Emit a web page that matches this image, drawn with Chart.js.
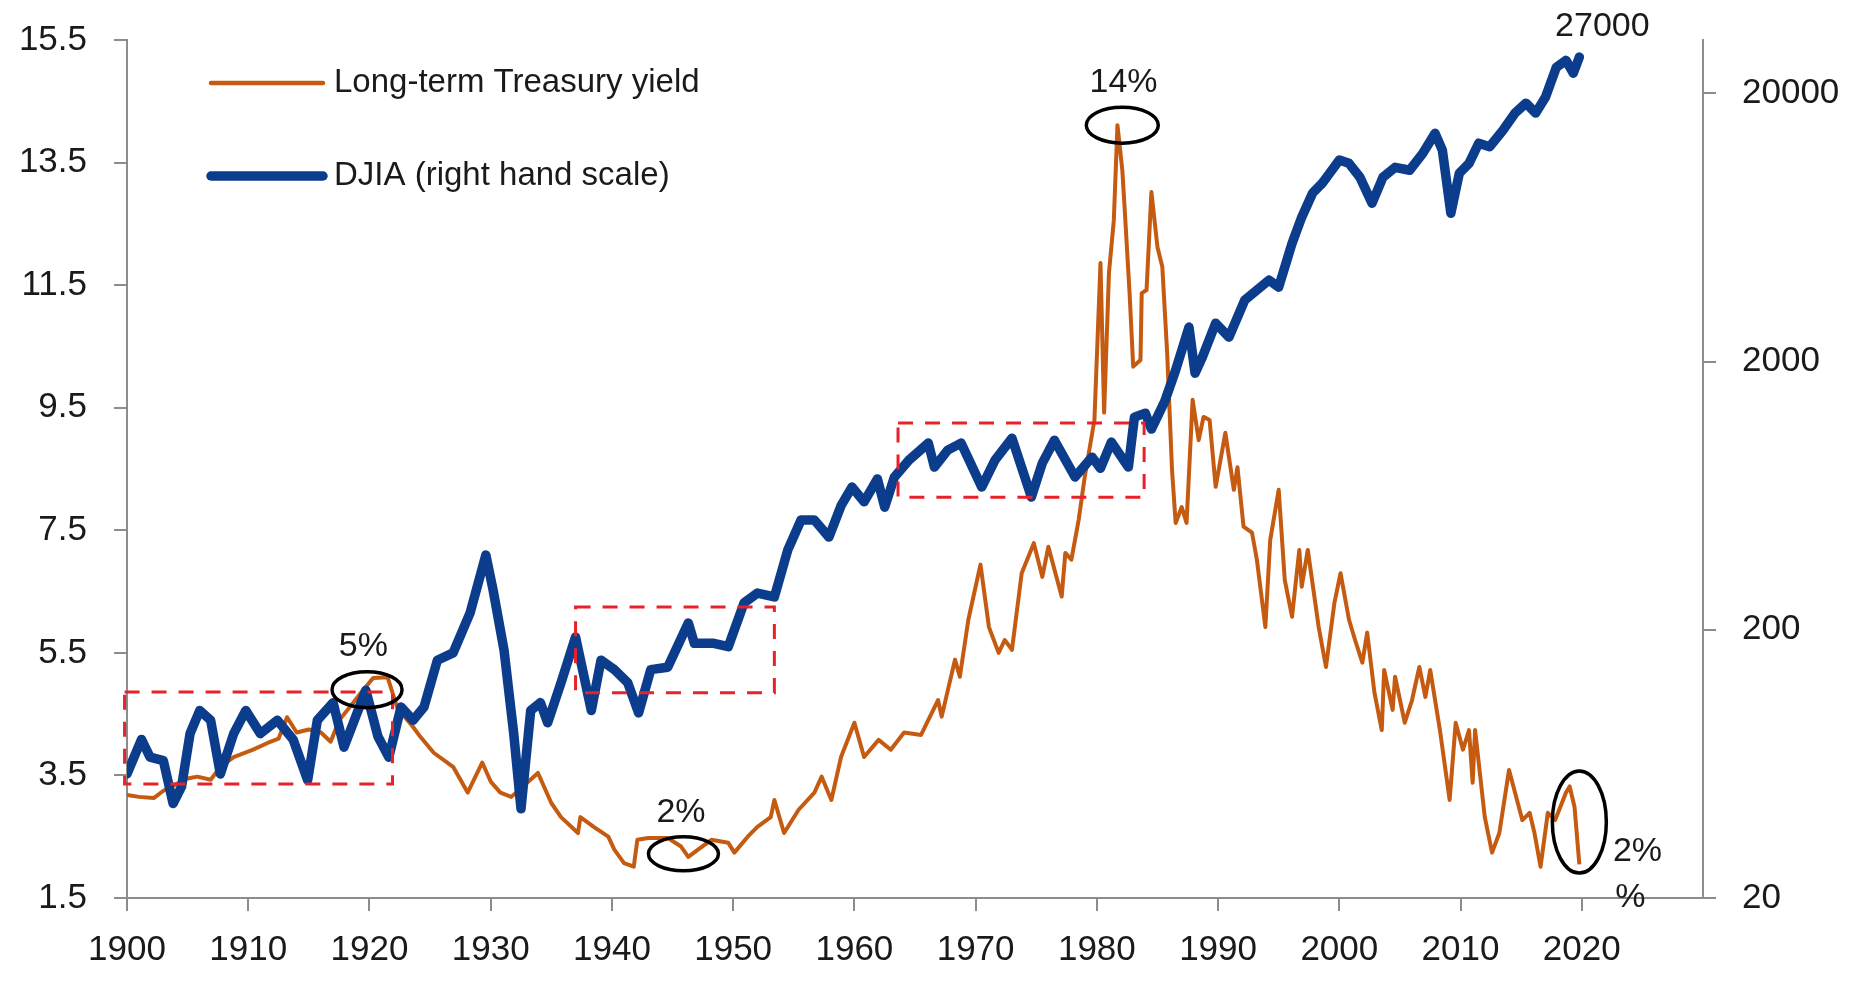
<!DOCTYPE html>
<html lang="en">
<head>
    <meta charset="UTF-8">
    <title>Long-term Treasury yield vs DJIA</title>
    <script src="https://cdn.jsdelivr.net/npm/chart.js"></script>
    <style>
        body {
            margin: 0;
            padding: 0;
            background: #ffffff;
        }
    </style>
</head>
<body>
    <canvas id="yieldChart" width="1865" height="981"></canvas>

    <script>
        // Long-term Treasury yield (%)
        const yieldYears = [
            1900.0, 1901.0, 1902.2, 1903.0, 1904.0, 1905.0, 1905.8, 1906.9, 1907.7, 1908.8,
            1910.4, 1911.6, 1912.5, 1913.2, 1914.0, 1915.0, 1916.0, 1916.8, 1917.5, 1918.2,
            1919.3, 1920.3, 1921.5, 1922.3, 1923.6, 1924.2, 1925.3, 1926.9, 1928.1, 1929.3,
            1930.0, 1930.8, 1931.7, 1933.0, 1933.9, 1935.0, 1935.8, 1937.2, 1937.4, 1938.5,
            1939.7, 1940.2, 1941.0, 1941.8, 1942.1, 1943.0, 1944.6, 1945.7, 1946.3, 1947.1,
            1948.2, 1949.6, 1950.1, 1951.2, 1952.0, 1953.1, 1953.4, 1954.2, 1955.4, 1956.7,
            1957.3, 1958.1, 1958.9, 1960.0, 1960.8, 1962.0, 1963.0, 1964.1, 1965.5, 1966.9,
            1967.2, 1968.3, 1968.7, 1969.4, 1970.4, 1971.1, 1971.9, 1972.4, 1973.0, 1973.8,
            1974.8, 1975.5, 1976.0, 1977.1, 1977.4, 1977.9, 1978.5, 1979.0, 1979.8, 1980.3,
            1980.6, 1981.0, 1981.4, 1981.7, 1982.1, 1982.3, 1982.7, 1983.0, 1983.6, 1983.7,
            1984.1, 1984.5, 1985.0, 1985.4, 1985.8, 1986.2, 1986.5, 1987.0, 1987.4, 1987.9,
            1988.4, 1988.8, 1989.3, 1989.8, 1990.6, 1991.3, 1991.6, 1992.1, 1992.8, 1993.2,
            1993.9, 1994.3, 1995.0, 1995.5, 1996.1, 1996.7, 1996.9, 1997.4, 1998.3, 1998.9,
            1999.6, 2000.1, 2000.8, 2001.3, 2001.9, 2002.3, 2002.9, 2003.5, 2003.7, 2004.4,
            2004.6, 2005.4, 2006.0, 2006.6, 2007.1, 2007.5, 2008.3, 2009.1, 2009.6, 2010.2,
            2010.7, 2011.0, 2011.2, 2012.0, 2012.6, 2013.2, 2014.0, 2015.1, 2015.7, 2016.1,
            2016.6, 2017.2, 2017.8, 2018.7, 2019.0, 2019.4, 2019.8
        ];
        const yieldValues = [
            3.18, 3.15, 3.13, 3.25, 3.35, 3.45, 3.48, 3.43, 3.64, 3.80,
            3.92, 4.03, 4.10, 4.45, 4.20, 4.25, 4.20, 4.05, 4.40, 4.57,
            4.85, 5.09, 5.10, 4.60, 4.29, 4.13, 3.87, 3.64, 3.22, 3.71,
            3.40, 3.22, 3.15, 3.38, 3.54, 3.05, 2.82, 2.56, 2.82, 2.66,
            2.50, 2.29, 2.07, 2.01, 2.45, 2.48, 2.48, 2.34, 2.17, 2.29,
            2.45, 2.40, 2.24, 2.50, 2.66, 2.82, 3.10, 2.56, 2.94, 3.22,
            3.48, 3.10, 3.80, 4.36, 3.80, 4.08, 3.92, 4.20, 4.16, 4.73,
            4.46, 5.39, 5.11, 6.04, 6.94, 5.92, 5.50, 5.71, 5.55, 6.80,
            7.29, 6.74, 7.23, 6.42, 7.13, 7.02, 7.67, 8.37, 9.30, 11.86,
            9.42, 11.70, 12.56, 14.11, 13.38, 12.73, 11.37, 10.17, 10.28, 11.37,
            11.42, 13.02, 12.12, 11.80, 10.39, 8.49, 7.62, 7.88, 7.62, 9.63,
            8.97, 9.35, 9.30, 8.21, 9.09, 8.16, 8.53, 7.56, 7.46, 7.02,
            5.92, 7.34, 8.16, 6.69, 6.09, 7.18, 6.58, 7.18, 5.92, 5.27,
            6.32, 6.80, 6.04, 5.71, 5.34, 5.83, 4.85, 4.24, 5.22, 4.57,
            5.11, 4.36, 4.73, 5.27, 4.78, 5.22, 4.24, 3.10, 4.36, 3.92,
            4.24, 3.38, 4.24, 2.82, 2.24, 2.56, 3.59, 2.77, 2.89, 2.56,
            2.01, 2.89, 2.77, 3.22, 3.32, 2.99, 2.05
        ];

        // Dow Jones Industrial Average (right hand log scale)
        const djiaYears = [
            1900.0, 1901.2, 1901.9, 1903.0, 1903.8, 1904.5, 1905.2, 1906.0, 1906.9, 1907.7,
            1908.8, 1909.8, 1911.0, 1912.4, 1913.7, 1914.9, 1915.7, 1917.0, 1917.9, 1919.7,
            1920.7, 1921.6, 1922.6, 1923.6, 1924.5, 1925.6, 1926.9, 1928.3, 1929.6, 1930.2,
            1931.1, 1931.9, 1932.5, 1933.3, 1934.1, 1934.7, 1935.8, 1937.0, 1938.3, 1939.1,
            1940.2, 1941.3, 1942.2, 1943.2, 1944.6, 1946.3, 1946.8, 1948.4, 1949.6, 1950.9,
            1952.0, 1953.4, 1954.5, 1955.6, 1956.7, 1957.9, 1958.9, 1959.8, 1960.8, 1961.9,
            1962.5, 1963.3, 1964.5, 1966.1, 1966.6, 1967.7, 1968.8, 1970.5, 1971.6, 1973.0,
            1974.6, 1975.5, 1976.5, 1978.2, 1979.6, 1980.3, 1981.2, 1982.6, 1983.1, 1984.0,
            1984.5, 1985.6, 1986.5, 1987.6, 1988.1, 1988.7, 1989.8, 1990.9, 1992.2, 1994.2,
            1995.0, 1996.1, 1996.9, 1997.8, 1998.6, 1999.2, 2000.0, 2000.8, 2001.7, 2002.7,
            2003.6, 2004.6, 2005.8, 2006.9, 2007.9, 2008.5, 2009.2, 2009.9, 2010.7, 2011.5,
            2012.4, 2013.5, 2014.5, 2015.4, 2016.2, 2017.0, 2017.9, 2018.7, 2019.3, 2019.8
        ];
        const djiaValues = [
            58, 78, 67, 65, 45, 52, 82, 100, 92, 58,
            82, 100, 82, 92, 78, 55, 92, 107, 73, 119,
            80, 67, 103, 92, 103, 154, 164, 231, 380, 281,
            168, 82, 43, 100, 107, 90, 127, 188, 100, 154,
            142, 127, 98, 142, 145, 212, 178, 178, 173, 252,
            274, 265, 396, 513, 513, 443, 580, 681, 600, 730,
            573, 742, 858, 993, 808, 935, 993, 681, 858, 1036,
            625, 836, 1018, 742, 880, 800, 1002, 808, 1241, 1284,
            1120, 1420, 1858, 2687, 1810, 2075, 2780, 2466, 3388, 4020,
            3787, 5518, 6904, 8494, 9250, 10070, 11270, 10960, 9727, 7780,
            9727, 10590, 10330, 11970, 14190, 12270, 7146, 10070, 10960, 13030,
            12640, 14560, 16870, 18380, 16870, 19330, 25000, 26540, 23770, 27290
        ];

        const yearTicks = [1900, 1910, 1920, 1930, 1940, 1950, 1960, 1970, 1980, 1990, 2000, 2010, 2020];
        const yieldTicks = [1.5, 3.5, 5.5, 7.5, 9.5, 11.5, 13.5, 15.5];
        const djiaTicks = [20, 200, 2000, 20000];

        // dashed boxes, rings and notes, in data units (year, yield)
        const boxes = [
            { x0: 1899.8, x1: 1921.9, y0: 3.36, y1: 4.86 },
            { x0: 1937.0, x1: 1953.4, y0: 4.85, y1: 6.25 },
            { x0: 1963.6, x1: 1983.9, y0: 8.04, y1: 9.25 }
        ];
        const rings = [
            { x: 1919.8, y: 4.90, rx: 35, ry: 18 },
            { x: 1945.9, y: 2.22, rx: 35, ry: 17 },
            { x: 1982.1, y: 14.11, rx: 36, ry: 18 },
            { x: 2019.8, y: 2.74, rx: 27, ry: 51 }
        ];
        const notes = [
            { x: 1919.5, y: 5.60, text: '5%' },
            { x: 1945.7, y: 2.90, text: '2%' },
            { x: 1982.2, y: 14.80, text: '14%' },
            { x: 2021.7, y: 15.72, text: '27000' },
            { x: 2024.6, y: 2.25, text: '2%' },
            { x: 2024.0, y: 1.50, text: '%' }
        ];

        const ORANGE = '#c55a11';
        const BLUE = '#0c3c8c';
        const AXIS = '#8c8c8c';
        const TEXT = '#1a1a1a';
        const FONT = '"Liberation Sans", Arial, sans-serif';

        const annotate = {
            id: 'annotate',
            afterDatasetsDraw(chart) {
                const ctx = chart.ctx;
                const xs = chart.scales.x;
                const ys = chart.scales.y;
                ctx.save();

                ctx.strokeStyle = '#e8222b';
                ctx.lineWidth = 3;
                ctx.setLineDash([15, 12]);
                boxes.forEach(b => {
                    const l = xs.getPixelForValue(b.x0), r = xs.getPixelForValue(b.x1);
                    const t = ys.getPixelForValue(b.y1), bt = ys.getPixelForValue(b.y0);
                    ctx.strokeRect(l, t, r - l, bt - t);
                });

                ctx.setLineDash([]);
                ctx.strokeStyle = '#000000';
                ctx.lineWidth = 3.5;
                rings.forEach(e => {
                    ctx.beginPath();
                    ctx.ellipse(xs.getPixelForValue(e.x), ys.getPixelForValue(e.y), e.rx, e.ry, 0, 0, Math.PI * 2);
                    ctx.stroke();
                });

                ctx.fillStyle = TEXT;
                ctx.font = '34px ' + FONT;
                ctx.textAlign = 'center';
                ctx.textBaseline = 'middle';
                notes.forEach(n => {
                    ctx.fillText(n.text, xs.getPixelForValue(n.x), ys.getPixelForValue(n.y));
                });

                // legend
                const a = chart.chartArea;
                const items = [
                    { label: 'Long-term Treasury yield', color: ORANGE, width: 4.5, dy: 43 },
                    { label: 'DJIA (right hand scale)', color: BLUE, width: 9.5, dy: 136 }
                ];
                ctx.textAlign = 'left';
                ctx.lineCap = 'round';
                items.forEach(it => {
                    const y = a.top + it.dy;
                    ctx.strokeStyle = it.color;
                    ctx.lineWidth = it.width;
                    ctx.beginPath();
                    ctx.moveTo(a.left + 84, y);
                    ctx.lineTo(a.left + 196, y);
                    ctx.stroke();
                    ctx.fillStyle = TEXT;
                    ctx.font = '33px ' + FONT;
                    ctx.fillText(it.label, a.left + 207, y);
                });
                ctx.restore();
            }
        };

        const tickFont = { family: FONT, size: 35 };

        // fixed axis sizes; drop the label padding chart.js adds above/below vertical axes
        const fitVertical = w => s => {
            s.width = w;
            s.paddingTop = 0;
            s.paddingBottom = 0;
        };

        new Chart(document.getElementById('yieldChart'), {
            type: 'line',
            data: {
                datasets: [
                    {
                        label: 'DJIA (right hand scale)',
                        data: djiaYears.map((x, i) => ({ x: x, y: djiaValues[i] })),
                        yAxisID: 'y2',
                        borderColor: BLUE,
                        borderWidth: 9.5,
                        borderJoinStyle: 'round',
                        borderCapStyle: 'round',
                        pointRadius: 0,
                        tension: 0,
                        order: 0
                    },
                    {
                        label: 'Long-term Treasury yield',
                        data: yieldYears.map((x, i) => ({ x: x, y: yieldValues[i] })),
                        yAxisID: 'y',
                        borderColor: ORANGE,
                        borderWidth: 4,
                        borderJoinStyle: 'round',
                        pointRadius: 0,
                        tension: 0,
                        order: 1
                    }
                ]
            },
            options: {
                responsive: false,
                animation: false,
                layout: { padding: { top: 40, left: 0, right: 0, bottom: 0 } },
                plugins: {
                    legend: { display: false },
                    tooltip: { enabled: false }
                },
                scales: {
                    x: {
                        type: 'linear',
                        min: 1900,
                        max: 2030,
                        afterBuildTicks: s => { s.ticks = yearTicks.map(v => ({ value: v })); },
                        afterFit: s => { s.height = 83; },
                        ticks: {
                            font: tickFont,
                            color: TEXT,
                            padding: 18,
                            maxRotation: 0,
                            callback: v => String(v)
                        },
                        grid: { drawOnChartArea: false, tickLength: 13, color: AXIS, lineWidth: 2 },
                        border: { color: AXIS, width: 2 }
                    },
                    y: {
                        type: 'linear',
                        position: 'left',
                        min: 1.5,
                        max: 15.5,
                        afterBuildTicks: s => { s.ticks = yieldTicks.map(v => ({ value: v })); },
                        afterFit: fitVertical(127),
                        ticks: {
                            font: tickFont,
                            color: TEXT,
                            padding: 27,
                            callback: v => v.toFixed(1)
                        },
                        grid: { drawOnChartArea: false, tickLength: 13, color: AXIS, lineWidth: 2 },
                        border: { color: AXIS, width: 2 }
                    },
                    y2: {
                        type: 'logarithmic',
                        position: 'right',
                        min: 20,
                        max: 31600,
                        afterBuildTicks: s => { s.ticks = djiaTicks.map(v => ({ value: v })); },
                        afterFit: fitVertical(162),
                        ticks: {
                            font: tickFont,
                            color: TEXT,
                            padding: 26,
                            callback: v => String(v)
                        },
                        grid: { drawOnChartArea: false, tickLength: 13, color: AXIS, lineWidth: 2 },
                        border: { color: AXIS, width: 2 }
                    }
                }
            },
            plugins: [annotate]
        });
    </script>
</body>
</html>
